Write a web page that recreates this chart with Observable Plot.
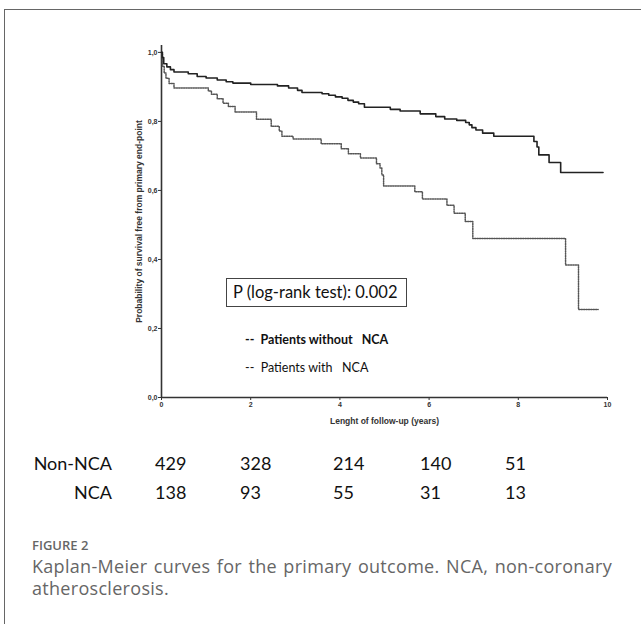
<!DOCTYPE html>
<html>
<head>
<meta charset="utf-8">
<script src="https://cdn.jsdelivr.net/npm/d3@7"></script>
<script src="https://cdn.jsdelivr.net/npm/@observablehq/plot@0.6"></script>
<style>
  html, body { margin: 0; padding: 0; background: #fff; }
  #page { position: relative; width: 641px; height: 624px; overflow: hidden; background: #fff; }
  #frame { position: absolute; left: 4px; top: 9px; right: -10px; bottom: -10px; border-top: 1px solid #666; border-left: 1px solid #666; }
  #chart { position: absolute; left: 0; top: 0; }
  .pbox { position: absolute; left: 226px; top: 278px; width: 181px; height: 29px; box-sizing: border-box; border: 1px solid #444; font-family: Lato, "Open Sans", sans-serif; font-size: 16.5px; line-height: 27px; padding-left: 6px; color: #111; white-space: nowrap; }
  .leg { position: absolute; left: 245px; font-family: Lato, "Open Sans", sans-serif; font-size: 12.5px; line-height: 16px; color: #111; white-space: pre; }
  .cell { position: absolute; font-family: Lato, "Open Sans", sans-serif; font-size: 18px; line-height: 22px; color: #111; white-space: nowrap; }
  .fig { position: absolute; left: 32px; top: 538px; font-family: "Open Sans", sans-serif; font-weight: 600; font-size: 13px; line-height: 15px; color: #666; }
  .cap { position: absolute; left: 32px; top: 555px; width: 580px; font-family: "Open Sans", sans-serif; font-size: 18px; letter-spacing: 0.3px; line-height: 22px; color: #666; text-align: justify; }
</style>
</head>
<body>
<div id="page">
  <div id="frame"></div>
  <div id="chart"></div>
</div>
<script>
// ---- Data ----
const nonNcaTime = [0, 0.02, 0.05, 0.12, 0.2, 0.28, 0.6, 0.8, 1.0, 1.25, 1.45, 1.6, 2.0, 2.6, 2.85, 3.05, 3.15, 3.6, 3.75, 3.9, 4.05, 4.18, 4.3, 4.42, 4.55, 5.13, 5.35, 5.8, 6.15, 6.35, 6.62, 6.82, 6.9, 6.96, 7.05, 7.2, 7.45, 8.35, 8.42, 8.46, 8.69, 8.95, 9.9];
const nonNcaSurv = [1.0, 0.985, 0.967, 0.958, 0.95, 0.943, 0.938, 0.93, 0.926, 0.92, 0.915, 0.911, 0.907, 0.903, 0.897, 0.89, 0.884, 0.88, 0.876, 0.871, 0.867, 0.861, 0.856, 0.851, 0.841, 0.835, 0.83, 0.822, 0.814, 0.807, 0.803, 0.797, 0.79, 0.782, 0.775, 0.766, 0.757, 0.742, 0.726, 0.703, 0.681, 0.652, 0.652];

const ncaTime = [0, 0.02, 0.06, 0.1, 0.17, 0.28, 1.05, 1.12, 1.25, 1.38, 1.5, 1.65, 2.13, 2.46, 2.64, 2.7, 2.95, 3.58, 4.03, 4.19, 4.46, 4.82, 4.9, 4.94, 4.98, 5.68, 5.85, 6.4, 6.56, 6.81, 6.98, 9.06, 9.35, 9.79];
const ncaSurv = [1.0, 0.96, 0.94, 0.925, 0.91, 0.897, 0.888, 0.879, 0.866, 0.853, 0.843, 0.827, 0.806, 0.786, 0.772, 0.757, 0.749, 0.735, 0.721, 0.706, 0.694, 0.677, 0.665, 0.645, 0.613, 0.596, 0.575, 0.557, 0.534, 0.51, 0.461, 0.384, 0.255, 0.255];

const xTicks = [0, 2, 4, 6, 8, 10];
const yTicks = [0, 0.2, 0.4, 0.6, 0.8, 1.0];

const groups = ["Non-NCA", "NCA"];
const nonNcaRisk = [429, 328, 214, 140, 51];
const ncaRisk = [138, 93, 55, 31, 13];

const xLabel = "Lenght of follow-up (years)";
const yLabel = "Probability of survival free from primary end-point";
const pText = "P (log-rank test): 0.002";
const legendLabels = ["Patients without   NCA", "Patients with   NCA"];
const figLabel = "FIGURE 2";
const captionText = "Kaplan-Meier curves for the primary outcome. NCA, non-coronary atherosclerosis.";

// ---- Layout constants (not data) ----
const riskColLeft = [155, 240, 333, 420, 505];
const riskRowTop = [452, 481];
const riskLabelRight = 112;

const nonNca = nonNcaTime.map((t, i) => ({t, s: nonNcaSurv[i]}));
const nca = ncaTime.map((t, i) => ({t, s: ncaSurv[i]}));

const chart = Plot.plot({
  width: 641,
  height: 426,
  marginLeft: 161,
  marginRight: 34,
  marginTop: 45,
  marginBottom: 29,
  x: {domain: [0, 10]},
  y: {domain: [0, 1.02]},
  style: {fontFamily: "'Liberation Sans', Arial, sans-serif", fontSize: "7px", fontWeight: "bold", color: "#333", background: "transparent", overflow: "visible"},
  marks: [
    Plot.axisY({ticks: yTicks, tickSize: 3, tickPadding: 1, tickFormat: d => d.toFixed(1).replace(".", ","), label: yLabel, labelAnchor: "center", labelOffset: 26, labelArrow: "none"}),
    Plot.axisX({ticks: xTicks, tickSize: 3, tickPadding: 2, tickFormat: d => String(d), label: xLabel, labelAnchor: "center", labelArrow: "none"}),
    Plot.ruleX([0], {y1: 0, y2: 1.02, stroke: "#333", strokeWidth: 1.6}),
    Plot.ruleY([0], {x1: 0, x2: 10, stroke: "#333", strokeWidth: 1.6}),
    Plot.line(nca, {x: "t", y: "s", curve: "step-after", stroke: "#555", strokeWidth: 1.5, strokeDasharray: "1.2,1.2"}),
    Plot.line(nonNca, {x: "t", y: "s", curve: "step-after", stroke: "#222", strokeWidth: 1.6})
  ]
});
d3.select(chart).selectAll("g[aria-label='y-axis label'], g[aria-label='x-axis label']").style("font-size", "8.5px");
document.getElementById("chart").appendChild(chart);

const page = d3.select("#page");
page.append("div").attr("class", "pbox").text(pText);
page.append("div").attr("class", "leg").style("top", "332px").style("font-weight", "bold").text("--  " + legendLabels[0]);
page.append("div").attr("class", "leg").style("top", "360px").text("--  " + legendLabels[1]);

const riskRows = [nonNcaRisk, ncaRisk];
groups.forEach((g, r) => {
  page.append("div").attr("class", "cell")
    .style("top", riskRowTop[r] + "px")
    .style("right", (641 - riskLabelRight) + "px")
    .text(g);
  riskRows[r].forEach((v, c) => {
    page.append("div").attr("class", "cell")
      .style("top", riskRowTop[r] + "px")
      .style("left", riskColLeft[c] + "px")
      .text(v);
  });
});
page.append("div").attr("class", "fig").text(figLabel);
page.append("div").attr("class", "cap").text(captionText);
</script>
</body>
</html>
